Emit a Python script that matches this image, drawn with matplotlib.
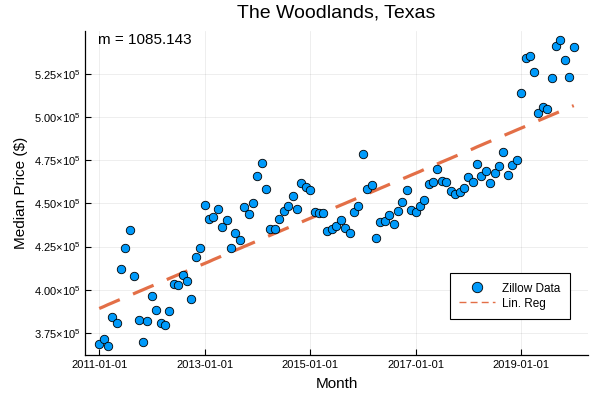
import numpy as np
import pandas as pd
import matplotlib
matplotlib.use("Agg")
import matplotlib.pyplot as plt
from matplotlib.lines import Line2D
from matplotlib.ticker import FuncFormatter

# ---- data ----
start_month = "2011-01-01"
prices = [
    368400, 371800, 367600, 384300, 380900, 412200, 423900, 434700, 408000, 382600,
    369900, 381800, 396600, 388100, 380700, 379900, 387800, 403100, 402800, 408300,
    405300, 394900, 418900, 423900, 449100, 440900, 442200, 446600, 436200, 440300,
    424100, 433100, 428900, 447800, 443700, 450100, 465800, 473300, 458200, 435100,
    435100, 440900, 445600, 448400, 454100, 446600, 462000, 459600, 457900, 445200,
    444500, 444500, 433800, 435100, 437000, 440100, 436000, 432700, 445200, 448700,
    478500, 458300, 460600, 429900, 439400, 439800, 443200, 438000, 445500, 451000,
    457800, 446000, 445200, 448500, 451800, 461200, 462300, 469600, 462700, 462200,
    456900, 455400, 456300, 458700, 465300, 462200, 472600, 465900, 468700, 461600,
    467700, 471800, 479500, 466600, 472100, 475200, 513700, 534200, 535200, 526000,
    502000, 505500, 504500, 522800, 540800, 544400, 532900, 523100, 540400,
]
x_tick_labels = ["2011-01-01", "2013-01-01", "2015-01-01", "2017-01-01", "2019-01-01"]
y_ticks = [375000, 400000, 425000, 450000, 475000, 500000, 525000]
title = "The Woodlands, Texas"
x_label = "Month"
y_label = "Median Price ($)"
slope_text = "m = 1085.143"
series_labels = ["Zillow Data", "Lin. Reg"]

# ---- derived ----
dates = pd.date_range(start_month, periods=len(prices), freq="MS")
idx = np.arange(len(prices))
m, b = np.polyfit(idx, prices, 1)
fit = m * idx + b

plt.rcParams["font.family"] = ["Liberation Sans", "DejaVu Sans"]
plt.rcParams["mathtext.fontset"] = "custom"
plt.rcParams["mathtext.rm"] = "Liberation Sans"
plt.rcParams["mathtext.it"] = "Liberation Sans"
plt.rcParams["mathtext.bf"] = "Liberation Sans"

blue = "#009AFA"
orange = "#E36F47"

fig = plt.figure(figsize=(6, 4), dpi=100)
ax = fig.add_axes([85 / 600, 1 - 355 / 400, (588 - 85) / 600, (355 - 31) / 400])

ax.plot(dates, fit, color=orange, lw=2.3, dashes=(7, 4.5), zorder=2)
ax.scatter(dates, prices, s=37, color=blue, edgecolors="black", linewidths=0.6, zorder=3)

# limits with Plots-like 3% padding
span = dates[-1] - dates[0]
ax.set_xlim(dates[0] - span * 0.03, dates[-1] + span * 0.03)
pr = max(prices) - min(prices)
ax.set_ylim(min(prices) - 0.03 * pr, max(prices) + 0.03 * pr)

ax.set_xticks(pd.to_datetime(x_tick_labels))
ax.set_xticklabels(x_tick_labels)
ax.set_yticks(y_ticks)


def yfmt(v, pos):
    return r"$%.2f{\times}10^{5}$" % (v / 1e5)


ax.yaxis.set_major_formatter(FuncFormatter(yfmt))
ax.tick_params(direction="in", length=4, width=0.8, labelsize=8, colors="black")

for s in ["top", "right"]:
    ax.spines[s].set_visible(False)
for s in ["left", "bottom"]:
    ax.spines[s].set_linewidth(0.9)

ax.grid(True, color="black", alpha=0.08, linewidth=0.6)
ax.set_axisbelow(True)

ax.set_title(title, fontsize=14, pad=10)
ax.set_xlabel(x_label, fontsize=11, labelpad=5)
ax.set_ylabel(y_label, fontsize=11, labelpad=4)

ax.text(98 / 600, 1 - 40 / 400, slope_text, transform=fig.transFigure,
        fontsize=11, ha="left", va="center")

handles = [
    Line2D([], [], marker="o", linestyle="none", markersize=7.5,
           markerfacecolor=blue, markeredgecolor="black", markeredgewidth=0.6),
    Line2D([], [], color=orange, lw=1, dashes=(5, 3)),
]
leg = ax.legend(handles, series_labels, loc="lower right", fontsize=8.5,
                bbox_to_anchor=(570 / 600, 1 - 319 / 400), bbox_transform=fig.transFigure,
                frameon=True, fancybox=False, framealpha=1, edgecolor="black",
                handlelength=3.0, handletextpad=0.65, labelspacing=0.25,
                borderpad=0.8, borderaxespad=0)
leg.get_frame().set_linewidth(0.8)

fig.savefig("out.png", dpi=100)
